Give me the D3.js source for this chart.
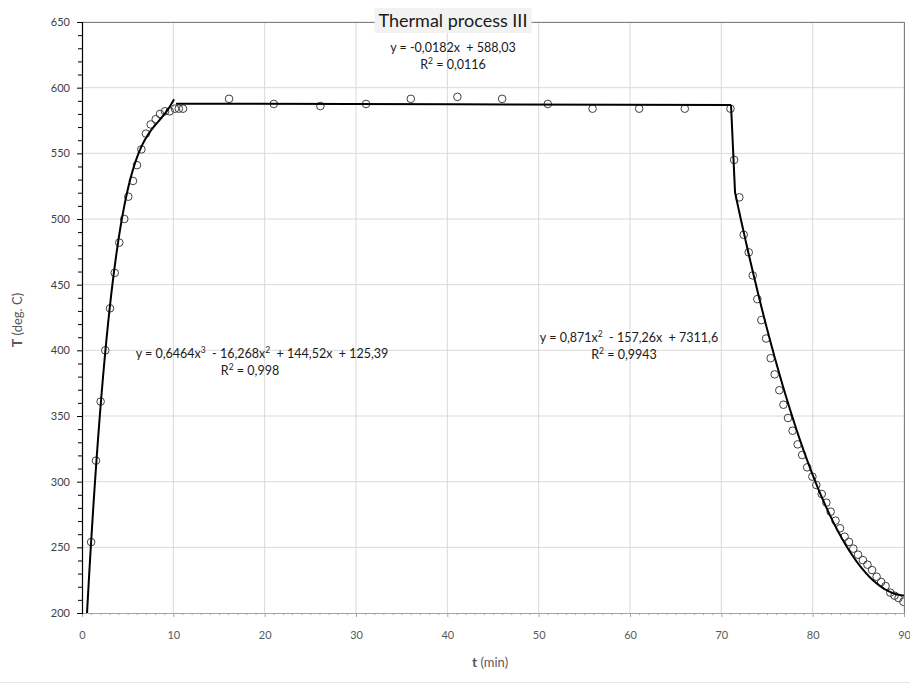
<!DOCTYPE html>
<html><head><meta charset="utf-8">
<script src="https://cdn.jsdelivr.net/npm/d3@7"></script>
<style>body{margin:0;background:#fff;}text{font-family:Lato,"Open Sans",sans-serif;white-space:pre;}</style>
</head><body><svg id="c" width="910" height="684"></svg>
<script>
const heatT = [1.0,1.53,2.04,2.55,3.07,3.58,4.08,4.63,5.07,5.58,6.02,6.5,7.0,7.52,8.07,8.54,9.09,9.6,10.18,10.6,11.06];
const heatV = [254,316,361,400,432,459,482,500,517,529,541,553,565,572,576,580,582,582,584,584,584];
const holdT = [16.1,21.0,26.1,31.1,36.0,41.1,46.0,51.0,55.9,61.0,66.0,71.0];
const holdV = [591.5,587.6,586,587.6,591.5,593,591.5,587.6,584,584,584,584];
const coolT = [71.4,71.97,72.45,73.0,73.44,73.94,74.38,74.9,75.4,75.84,76.35,76.8,77.3,77.8,78.36,78.85,79.4,79.97,80.4,80.99,81.5,81.97,82.5,83.0,83.5,83.98,84.45,84.97,85.5,86.0,86.5,87.0,87.5,87.98,88.5,88.96,89.4,89.93];
const coolV = [545,516.5,488,474.6,457,439,423,409,394,381.7,369.6,358.6,348.5,338.8,328.4,320.3,310.9,303.8,297.5,290.6,284,277.1,270.3,264.5,258.1,254.1,249,244.4,240.3,236.8,232.7,227.6,223.6,220.5,215.5,213.2,211.4,208.6];
const xTicks = [0,10,20,30,40,50,60,70,80,90];
const yTicks = [200,250,300,350,400,450,500,550,600,650];
const heatCoef = [0.6464,-16.268,144.52,125.39]; // cubic
const holdCoef = [-0.0182,588.03]; // linear
const coolCoef = [0.871,-157.26,7311.6]; // quadratic
const heatRange = [0.5,10.07];
const holdRange = [10.3,71.06];
const coolRange = [71.5,90];
const title = "Thermal process III";

const svg = d3.select("#c");
const L=82,R=904,T=22,B=613;
const x = d3.scaleLinear().domain([0,90]).range([L,R]);
const y = d3.scaleLinear().domain([200,650]).range([B,T]);
const grid = svg.append("g");
xTicks.slice(1).forEach(v=>grid.append("line").attr("x1",x(v)).attr("x2",x(v)).attr("y1",T).attr("y2",B).attr("stroke","#d9d9d9"));
yTicks.slice(1).forEach(v=>grid.append("line").attr("x1",L).attr("x2",R).attr("y1",y(v)).attr("y2",y(v)).attr("stroke","#d9d9d9"));
svg.append("line").attr("x1",L).attr("x2",R).attr("y1",T+0.5).attr("y2",T+0.5).attr("stroke","#7f7f7f");
svg.append("line").attr("x1",R+0.5).attr("x2",R+0.5).attr("y1",T).attr("y2",B).attr("stroke","#7f7f7f");

const xa = svg.append("g").attr("transform",`translate(0,${B})`)
  .call(d3.axisBottom(x).tickValues(xTicks).tickSize(4).tickPadding(14).tickFormat(d3.format("d")));
xa.select(".domain").attr("stroke","#a6a6a6");
xa.selectAll(".tick line").attr("stroke","#a6a6a6");
xa.selectAll("text").attr("fill","#595959").attr("font-size",11);
const xm = svg.append("g").attr("transform",`translate(0,${B})`)
  .call(d3.axisBottom(x).tickValues(d3.range(0,91,1).filter(v=>v%10)).tickSize(2).tickFormat(""));
xm.select(".domain").remove(); xm.selectAll("line").attr("stroke","#a6a6a6");

const ya = svg.append("g").attr("transform",`translate(${L},0)`)
  .call(d3.axisLeft(y).tickValues(yTicks).tickSize(5).tickPadding(7).tickFormat(d3.format("d")));
ya.select(".domain").attr("stroke","#000").attr("stroke-width",1.2);
ya.selectAll(".tick line").attr("stroke","#000");
ya.selectAll("text").attr("fill","#404040").attr("font-size",11);
const ym = svg.append("g").attr("transform",`translate(${L},0)`)
  .call(d3.axisLeft(y).tickValues(d3.range(200,651,10).filter(v=>v%50)).tickSize(4).tickFormat(""));
ym.select(".domain").remove(); ym.selectAll("line").attr("stroke","#000");

svg.append("clipPath").attr("id","pc").append("rect").attr("x",L).attr("y",T).attr("width",R-L).attr("height",B-T);
const plot = svg.append("g").attr("clip-path","url(#pc)");

const pts = [];
heatT.forEach((t,i)=>pts.push([t,heatV[i]]));
holdT.forEach((t,i)=>pts.push([t,holdV[i]]));
coolT.forEach((t,i)=>pts.push([t,coolV[i]]));
plot.selectAll("circle.p").data(pts).enter().append("circle")
  .attr("cx",d=>x(d[0])).attr("cy",d=>y(d[1])).attr("r",3.8)
  .attr("fill","none").attr("stroke","#404040").attr("stroke-width",1);

const poly = c => t => c.reduce((a,k)=>a*t+k,0);
const line = d3.line().x(d=>x(d[0])).y(d=>y(d[1]));
function curve(c,r,n){const f=poly(c);return d3.range(n+1).map(i=>{const t=r[0]+(r[1]-r[0])*i/n;return [t,f(t)];});}
const tl = g=>g.attr("fill","none").attr("stroke","#000").attr("stroke-width",2);
plot.append("path").attr("d",line(curve(heatCoef,heatRange,200))).call(tl);
plot.append("path").attr("d",line(curve(holdCoef,holdRange,2))).call(tl);
const cool = curve(coolCoef,coolRange,200);
const hEnd = poly(holdCoef)(holdRange[1]);
plot.append("path").attr("d",line([[holdRange[1],hEnd]].concat(cool))).call(tl);

function eq(cx,yy,parts){
  const t=svg.append("text").attr("x",cx).attr("y",yy).attr("text-anchor","middle").attr("font-size",12.5).attr("fill","#1a1a1a");
  let prevSup=false;
  parts.forEach(p=>{
    if(typeof p==="string"){ const s=t.append("tspan").text(p); if(prevSup) s.attr("dy",5); prevSup=false; }
    else { t.append("tspan").attr("font-size",8.5).attr("dy",-5).text(p.s); prevSup=true; }
  });
}
const sup = s=>({s:s});
eq(453,52,["y = -0,0182x  + 588,03"]);
eq(453,69,["R",sup("2")," = 0,0116"]);
eq(262,358,["y = 0,6464x",sup("3"),"  - 16,268x",sup("2"),"  + 144,52x  + 125,39"]);
eq(250,375,["R",sup("2")," = 0,998"]);
eq(629,342,["y = 0,871x",sup("2"),"  - 157,26x  + 7311,6"]);
eq(624,359,["R",sup("2")," = 0,9943"]);

const tbg = svg.append("rect");
const tt = svg.append("text").attr("x",453).attr("y",27).attr("text-anchor","middle").attr("font-size",18).attr("fill","#1a1a1a").text(title);
const bb = tt.node().getBBox();
tbg.attr("x",bb.x-4).attr("y",8).attr("width",bb.width+8).attr("height",25).attr("fill","#f2f2f2");

const xt = svg.append("text").attr("x",490).attr("y",667).attr("text-anchor","middle").attr("fill","#595959");
xt.append("tspan").attr("font-weight","bold").attr("font-size",14).text("t");
xt.append("tspan").attr("font-size",13).text(" (min)");
const yt = svg.append("text").attr("transform","translate(22,320) rotate(-90)").attr("text-anchor","middle").attr("fill","#595959");
yt.append("tspan").attr("font-weight","bold").attr("font-size",14).text("T");
yt.append("tspan").attr("font-size",13).text(" (deg. C)");
svg.append("line").attr("x1",0).attr("x2",910).attr("y1",682.5).attr("y2",682.5).attr("stroke","#e6e6e6");
</script></body></html>
